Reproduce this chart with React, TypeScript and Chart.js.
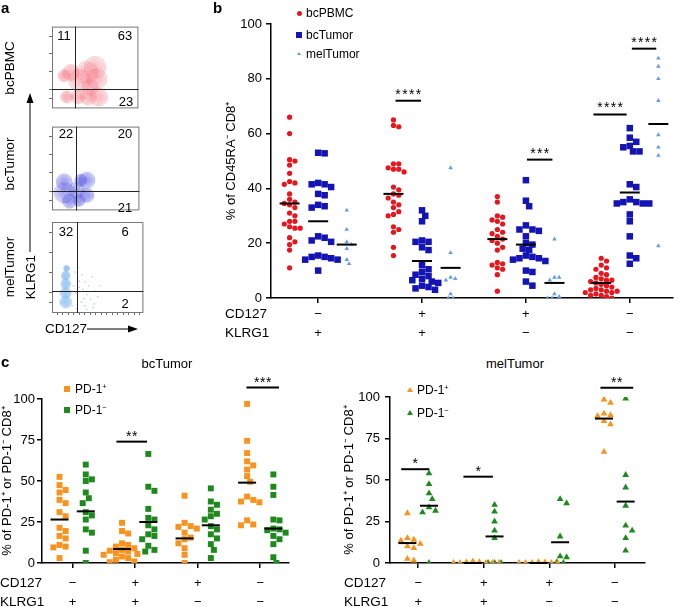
import React, { useEffect, useRef } from 'react';
import { Chart, registerables } from 'chart.js';

Chart.register(...registerables);

const FONT = '"Liberation Sans", Arial, Helvetica, sans-serif';
Chart.defaults.font.family = FONT;
Chart.defaults.color = '#000';

// ---------------- shared category rows ----------------
const GROUPS = [1, 2, 3, 4];
const CD127_ROW = ['\u2212', '+', '+', '\u2212'];
const KLRG1_ROW = ['+', '+', '\u2212', '\u2212'];

// ---------------- panel a (flow plots, contour centres in 0-100 units) ----------------
const aPBMCBlobs = [
  { x: 50, y: 50, r: 11 }, { x: 52, y: 36, r: 10 }, { x: 40, y: 44, r: 11 }, { x: 32, y: 34, r: 11 },
  { x: 22, y: 44, r: 8 }, { x: 14, y: 40, r: 6 }, { x: 44, y: 26, r: 8 },
  { x: 54, y: 14, r: 9 }, { x: 42, y: 14, r: 8 }, { x: 30, y: 14, r: 7 }, { x: 17, y: 14, r: 6 },
];
const aTumorBlobs = [
  { x: 14, y: 21, r: 10 }, { x: 14, y: 34, r: 8 }, { x: 20, y: 11, r: 7 }, { x: 40, y: 36, r: 8 },
  { x: 40, y: 18, r: 7 }, { x: 28, y: 24, r: 8 }, { x: 31, y: 12, r: 6 }, { x: 33, y: 36, r: 6 },
];
const aMelBlobs = [
  { x: 15, y: 12, r: 6 }, { x: 15, y: 22, r: 5.5 }, { x: 15, y: 32, r: 5 }, { x: 15, y: 41, r: 4.5 }, { x: 16, y: 49, r: 3 },
];
const aMelDots = [
  [24, 30], [26, 22], [28, 18], [30, 35], [32, 12], [34, 26], [36, 8], [38, 20], [40, 30], [42, 15],
  [44, 40], [46, 10], [48, 24], [25, 45], [28, 50], [33, 42], [22, 8], [27, 5], [35, 16], [38, 4],
  [50, 18], [52, 30], [30, 28], [36, 34], [45, 6],
];
const aGatePBMC = [27, 24];
const aGateTumor = [27, 23];
const aGateMel = [27, 24];
const aTicksY = [12, 23, 45, 67, 88];
const aTicksXMel = [6, 12, 18, 24, 30, 36, 42, 48, 54, 60, 66, 72, 78, 84, 90, 96];

// ---------------- panel b ----------------
const bPBMC = [
  [66, 60, 50.5, 50, 48.5, 45.5, 42.5, 42, 41.5, 38, 36, 35, 34.5, 34, 33, 31, 30, 28, 28, 27, 26, 25.5, 25.5, 22, 20.5, 19.5, 17.5, 11],
  [65, 63, 62.5, 49, 49, 47.5, 47, 47, 46, 40.5, 39.5, 38, 37.5, 36.5, 35, 34, 33, 31.5, 30.5, 30, 26, 25, 24, 18.5, 15.5],
  [37, 35, 30, 29.5, 28.5, 28, 27, 25, 24, 23.5, 22.5, 21.5, 21, 20, 18.5, 17.5, 13, 12.5, 12, 11, 10.5, 8.5, 2.5],
  [14.5, 13.5, 12, 11, 10.5, 9, 8.5, 7.5, 7, 6.5, 6, 5.5, 5, 4.5, 4, 3.5, 3, 2.5, 2, 2, 1.5, 1, 1, 0.5, 0, 6.5, 2.5, 3],
];
const bTumor = [
  [53, 52.8, 42, 41.5, 41.5, 40.5, 38, 37.5, 34, 33.5, 33, 22.5, 22, 21, 20.5, 15.5, 15, 15, 14.5, 14, 14, 10],
  [32, 30, 28, 21, 20.5, 20.5, 18.5, 17.5, 12, 10.5, 9.5, 8.5, 8, 7, 6.5, 6, 5.5, 4.5, 4, 3.5, 3],
  [43, 35.5, 33.5, 26.5, 25, 25, 24.5, 22.5, 20, 19.5, 18, 17.5, 15.5, 15, 14.5, 14.5, 14, 13.5, 10, 9.5, 6, 4.5],
  [62, 58.5, 57, 55.5, 55, 53.5, 53.5, 41.5, 40.5, 36, 35, 35, 34.5, 34.5, 34.5, 30.5, 28, 22.5, 15.5, 14.5, 12.5],
];
const bMel = [
  [32, 25, 20.5, 19.5, 18, 14, 12.5],
  [47.5, 16.5, 7.5, 7, 6.5, 1.5, 0, 0],
  [21.5, 7.5, 7.5, 6.5, 1.5, 0.5, 0, 0],
  [87.5, 84.5, 80, 72, 59.5, 55, 52, 19],
];
const bPBMCMean = [34.5, 38, 21.5, 5.5];
const bTumorMean = [28, 13.5, 19.5, 38.5];
const bMelMean = [19.5, 11, 5.5, 63.5];
const bSig = [
  { g: 2, x0: -0.255, x1: -0.01, y: 72, s: '****' },
  { g: 3, x0: 0.01, x1: 0.255, y: 50.5, s: '***' },
  { g: 4, x0: -0.35, x1: -0.03, y: 67, s: '****' },
  { g: 4, x0: 0.02, x1: 0.255, y: 91, s: '****' },
];

// ---------------- panel c, bcTumor ----------------
const cbPos = [
  [52.5, 47.5, 44.5, 43, 38.5, 36.5, 31, 28.5, 21.5, 19.5, 16.5, 15, 11, 10, 9.5, 3],
  [24.5, 19.5, 18, 11, 10, 9, 8, 7.5, 7, 6, 5.5, 5, 4, 3, 2, 1, 0.5, 12],
  [41, 24.5, 22.5, 21, 18.5, 15.5, 14.5, 12, 9, 5, 0, 22],
  [97, 74.5, 67, 62, 59.5, 57, 53, 49.5, 40.5, 38.5, 37.5, 37, 26, 23.5, 23],
];
const cbNeg = [
  [60, 54, 51, 50, 43, 39.5, 36.5, 31, 29, 26.5, 20.5, 18.5, 7.5, 0],
  [66.5, 46.5, 44, 33, 27.5, 26.5, 23, 20.5, 17.5, 14.5, 10.5, 8, 7, 16.5],
  [45.5, 37.5, 35.5, 32.5, 30, 28.5, 26.5, 22.5, 20.5, 17.5, 15, 11.5, 8, 3],
  [54, 46.5, 41.5, 26.5, 26, 21, 20.5, 18.5, 16.5, 14.5, 11.5, 3.5, 0, 20],
];
const cbPosMean = [26.5, 8.5, 15, 49];
const cbNegMean = [31.5, 25, 23, 21];
const cbSig = [
  { g: 2, x0: -0.3, x1: 0.19, y: 74, s: '**' },
  { g: 4, x0: -0.22, x1: 0.3, y: 107, s: '***' },
];

// ---------------- panel c, melTumor ----------------
const cmPos = [
  [30, 15, 14, 13.5, 11.5, 10, 9, 2.5, 1.5],
  [0, 0, 0, 0.3, 0.5, 1, 0, 0],
  [0, 0, 0, 0.3, 0.5, 0, 0],
  [98.5, 96.5, 90, 89, 88.5, 85.5, 83.5, 67],
];
const cmNeg = [
  [54, 47.5, 42, 38.5, 33.5, 31.5, 30.5, 0],
  [35, 31, 25, 19.5, 15, 0, 0, 0],
  [38.5, 36, 16, 4, 3.5, 0.5, 0],
  [99, 53, 45.5, 34.5, 22.5, 19.5, 15, 7.5],
];
const cmPosMean = [12, 0, 0, 87];
const cmNegMean = [34.5, 16, 12.5, 37];
const cmSig = [
  { g: 1, x0: -0.26, x1: 0.17, y: 56.5, s: '*' },
  { g: 2, x0: -0.31, x1: 0.14, y: 52, s: '*' },
  { g: 4, x0: -0.22, x1: 0.28, y: 105.5, s: '**' },
];

// ---------------- colours ----------------
const RED = '#e8151d';
const BLUE = '#1414b4';
const LBLUE = '#5e9ee6';
const ORANGE = '#f7931e';
const GREEN = '#1e8a1e';

// deterministic beeswarm offsets (pixels -> x data units)
function swarm(vals: number[], pxY: number, pxX: number, d: number): number[] {
  const idx = vals.map((_, i) => i).sort((a, b) => vals[b] - vals[a]);
  const placed: { x: number; y: number }[] = [];
  const out = new Array(vals.length).fill(0);
  for (const i of idx) {
    const y = vals[i] * pxY;
    for (let k = 0; k < 60; k++) {
      const off = (k % 2 === 1 ? 1 : -1) * Math.ceil(k / 2) * d * 0.5;
      if (placed.every((p) => Math.hypot(p.x - off, p.y - y) >= d * 0.95)) {
        placed.push({ x: off, y });
        out[i] = off / pxX;
        break;
      }
    }
  }
  return out;
}

function dots(groups: number[][], offset: number, pxY: number, pxX: number, d: number) {
  const data: { x: number; y: number }[] = [];
  groups.forEach((vals, gi) => {
    const offs = swarm(vals, pxY, pxX, d);
    vals.forEach((v, i) => data.push({ x: GROUPS[gi] + offset + offs[i], y: v }));
  });
  return data;
}

const starPlugin = {
  id: 'stars',
  afterDatasetsDraw(chart: any, _args: any, opts: any) {
    const items = opts.items || [];
    const { ctx } = chart;
    const xs = chart.scales.x;
    const ys = chart.scales.y;
    ctx.save();
    ctx.fillStyle = '#000';
    ctx.font = `${opts.size || 14}px ${FONT}`;
    ctx.textAlign = 'center';
    ctx.textBaseline = 'alphabetic';
    for (const it of items) {
      const cx = xs.getPixelForValue(it.g + (it.x0 + it.x1) / 2);
      const y = ys.getPixelForValue(it.y);
      const n = it.s.length;
      const sp = opts.spacing || 6.5;
      for (let k = 0; k < n; k++) ctx.fillText('*', cx + (k - (n - 1) / 2) * sp, y + (opts.lift ?? 0));
    }
    ctx.restore();
  },
};

const flowPlugin = {
  id: 'flow',
  afterDatasetsDraw(chart: any, _a: any, opts: any) {
    const { ctx, chartArea, scales } = chart;
    const { left, top, right, bottom } = chartArea;
    const gx = scales.x.getPixelForValue(opts.gate[0]);
    const gy = scales.y.getPixelForValue(opts.gate[1]);
    ctx.save();
    ctx.strokeStyle = '#777';
    ctx.lineWidth = 1;
    ctx.strokeRect(left + 0.5, top + 0.5, right - left - 1, bottom - top - 1);
    ctx.strokeStyle = '#222';
    ctx.beginPath();
    ctx.moveTo(Math.round(gx) + 0.5, top);
    ctx.lineTo(Math.round(gx) + 0.5, bottom);
    ctx.moveTo(left, Math.round(gy) + 0.5);
    ctx.lineTo(right, Math.round(gy) + 0.5);
    ctx.stroke();
    ctx.restore();
  },
};

function flowConfig(blobs: any[], stroke: string, fill: string, gate: number[], scatter: number[][], xTicks: number[]) {
  const rings = [1, 0.86, 0.73, 0.6, 0.48, 0.36, 0.24, 0.12];
  const datasets: any[] = rings.map((f) => ({
    type: 'bubble',
    data: blobs.map((b) => ({ x: b.x, y: b.y, r: b.r * f })),
    backgroundColor: fill,
    borderColor: stroke,
    borderWidth: 0.6,
  }));
  if (scatter.length) {
    datasets.push({
      type: 'scatter',
      data: scatter.map(([x, y]) => ({ x, y })),
      pointRadius: 0.8,
      backgroundColor: stroke,
      borderWidth: 0,
    });
  }
  return {
    type: 'bubble',
    data: { datasets },
    options: {
      responsive: false,
      animation: false,
      events: [],
      layout: { padding: { top: 7, right: 3, left: 0, bottom: 0 } },
      plugins: { legend: { display: false }, tooltip: { enabled: false }, flow: { gate } },
      scales: {
        x: {
          type: 'linear', min: 0, max: 100,
          afterFit: (s: any) => { s.height = 7; },
          afterBuildTicks: (s: any) => { s.ticks = xTicks.map((v) => ({ value: v })); },
          ticks: { display: false },
          grid: { drawOnChartArea: false, tickLength: 2, color: '#444', lineWidth: 0.8 },
          border: { display: false },
        },
        y: {
          type: 'linear', min: 0, max: 100,
          afterFit: (s: any) => { s.width = 12; },
          afterBuildTicks: (s: any) => { s.ticks = aTicksY.map((v) => ({ value: v })); },
          ticks: { display: false },
          grid: { drawOnChartArea: false, tickLength: 3, color: '#444', lineWidth: 0.8 },
          border: { display: false },
        },
      },
    },
    plugins: [flowPlugin],
  };
}

function axisCommon(tickLen: number) {
  return {
    grid: { drawOnChartArea: false, drawTicks: true, tickLength: tickLen, color: '#000', tickColor: '#000', lineWidth: 1.5, tickWidth: 1.5 },
    border: { display: true, color: '#000', width: 1.5 },
  };
}

interface SeriesSpec { vals: number[][]; off: number; color: string; style: string; r: number; d: number; }

function dotConfig(p: {
  series: SeriesSpec[]; means: number[][]; sig: any[]; pxY: number; pxX: number;
  xmin: number; xmax: number; yStep: number; yWidth: number; xHeight: number;
  padTop: number; padRight: number; title: string; titlePad: number; meanR: number;
  yTickPad: number; xTickPad: number; starSpacing: number; lift: number;
}) {
  const datasets: any[] = [];
  p.sig.forEach((s) => {
    datasets.push({
      data: [{ x: s.g + s.x0, y: s.y }, { x: s.g + s.x1, y: s.y }],
      showLine: true, pointRadius: 0, borderColor: '#000', borderWidth: 2, clip: false,
    });
  });
  p.means.forEach((m, si) => {
    datasets.push({
      data: m.map((v, gi) => ({ x: GROUPS[gi] + p.series[si].off, y: v })),
      pointStyle: 'line', pointRadius: p.meanR, borderColor: '#000', borderWidth: 2, showLine: false, clip: false,
    });
  });
  p.series.forEach((s) => {
    datasets.push({
      data: dots(s.vals, s.off, p.pxY, p.pxX, s.d),
      pointStyle: s.style, pointRadius: s.r, backgroundColor: s.color, borderColor: s.color, borderWidth: 0, showLine: false,
    });
  });
  return {
    type: 'scatter',
    data: { datasets },
    options: {
      responsive: false,
      animation: false,
      events: [],
      layout: { padding: { top: p.padTop, right: p.padRight, left: 0, bottom: 0 } },
      plugins: {
        legend: { display: false }, tooltip: { enabled: false },
        stars: { items: p.sig, spacing: p.starSpacing, size: 14, lift: p.lift },
      },
      scales: {
        x: {
          type: 'linear', min: p.xmin, max: p.xmax,
          afterFit: (s: any) => { s.height = p.xHeight; },
          afterBuildTicks: (s: any) => { s.ticks = GROUPS.map((v) => ({ value: v })); },
          ticks: {
            callback: (v: number) => [CD127_ROW[Math.round(v) - 1], KLRG1_ROW[Math.round(v) - 1]],
            font: { size: 13, lineHeight: 19 / 13 }, color: '#000', padding: p.xTickPad, maxRotation: 0, autoSkip: false,
          },
          ...axisCommon(5),
        },
        y: {
          type: 'linear', min: 0, max: 100,
          afterFit: (s: any) => { s.width = p.yWidth; },
          ticks: { stepSize: p.yStep, font: { size: 13 }, color: '#000', padding: p.yTickPad },
          title: { display: true, text: p.title, font: { size: 13 }, color: '#000', padding: { top: p.titlePad, bottom: 0 } },
          ...axisCommon(5),
        },
      },
    },
    plugins: [starPlugin],
  };
}

const bConfig = () => dotConfig({
  series: [
    { vals: bPBMC, off: -0.275, color: RED, style: 'circle', r: 2.6, d: 5.4 },
    { vals: bTumor, off: 0, color: BLUE, style: 'rect', r: 4.6, d: 6.6 },
    { vals: bMel, off: 0.275, color: LBLUE, style: 'triangle', r: 2.6, d: 4.8 },
  ],
  means: [bPBMCMean, bTumorMean, bMelMean], sig: bSig,
  pxY: 2.74, pxX: 105.7, xmin: 0.546, xmax: 4.416, yStep: 20, yWidth: 71, xHeight: 42,
  padTop: 24, padRight: 2, title: '% of CD45RA\u207B CD8\u207A', titlePad: 24, meanR: 10,
  yTickPad: 4, xTickPad: 1.5, starSpacing: 6.8, lift: -2,
});

const cbConfig = () => dotConfig({
  series: [
    { vals: cbPos, off: -0.21, color: ORANGE, style: 'rect', r: 4.2, d: 6.2 },
    { vals: cbNeg, off: 0.21, color: GREEN, style: 'rect', r: 4.2, d: 6.2 },
  ],
  means: [cbPosMean, cbNegMean], sig: cbSig,
  pxY: 1.64, pxX: 63.3, xmin: 0.51, xmax: 4.46, yStep: 25, yWidth: 42, xHeight: 44,
  padTop: 24, padRight: 2, title: '% of PD-1\u207A or PD-1\u207B CD8\u207A', titlePad: 0, meanR: 9,
  yTickPad: 2, xTickPad: 5.5, starSpacing: 6, lift: -1,
});

const cmConfig = () => dotConfig({
  series: [
    { vals: cmPos, off: -0.165, color: ORANGE, style: 'triangle', r: 3.9, d: 6.4 },
    { vals: cmNeg, off: 0.165, color: GREEN, style: 'triangle', r: 3.9, d: 6.4 },
  ],
  means: [cmPosMean, cmNegMean], sig: cmSig,
  pxY: 1.66, pxX: 64.7, xmin: 0.57, xmax: 4.46, yStep: 25, yWidth: 50, xHeight: 44,
  padTop: 22, padRight: 40, title: '% of PD-1\u207A or PD-1\u207B CD8\u207A', titlePad: 2, meanR: 9,
  yTickPad: 5, xTickPad: 5.5, starSpacing: 6, lift: -1,
});

function ChartCanvas({ left, top, width, height, make }: any) {
  const ref = useRef<HTMLCanvasElement>(null);
  useEffect(() => {
    const chart = new Chart(ref.current as HTMLCanvasElement, make());
    return () => chart.destroy();
  }, []);
  return <canvas ref={ref} width={width} height={height} style={{ position: 'absolute', left, top, width, height }} />;
}

function Txt({ x, y, s = 13, bold = false, rot = 0, anchor = 'middle', children }: any) {
  const tx = anchor === 'start' ? '0' : anchor === 'end' ? '-100%' : '-50%';
  return (
    <div style={{
      position: 'absolute', left: x, top: y, fontSize: s, fontWeight: bold ? 'bold' : 'normal', lineHeight: 1,
      whiteSpace: 'nowrap', transform: `translate(${tx}, -50%)${rot ? ` rotate(${rot}deg)` : ''}`, fontFamily: FONT,
    }}>{children}</div>
  );
}

function Marker({ x, y, shape, color, size }: any) {
  const base: any = { position: 'absolute', left: x - size / 2, top: y - size / 2 };
  if (shape === 'circle') return <div style={{ ...base, width: size, height: size, borderRadius: '50%', background: color }} />;
  if (shape === 'square') return <div style={{ ...base, width: size, height: size, background: color }} />;
  return <div style={{ ...base, width: 0, height: 0, borderLeft: `${size / 2}px solid transparent`, borderRight: `${size / 2}px solid transparent`, borderBottom: `${size * 0.87}px solid ${color}` }} />;
}

const Sup = ({ c }: any) => <sup style={{ fontSize: '0.62em', verticalAlign: '0.55em', lineHeight: 0 }}>{c}</sup>;

export default function App() {
  return (
    <div style={{ position: 'fixed', left: 0, top: 0, width: 685, height: 607, background: '#fff', overflow: 'hidden', fontFamily: FONT, color: '#000' }}>
      {/* panel a */}
      <ChartCanvas left={40} top={15} width={110} height={105}
        make={() => flowConfig(aPBMCBlobs, 'rgba(236,80,90,0.45)', 'rgba(250,140,150,0.05)', aGatePBMC, [], [])} />
      <ChartCanvas left={40} top={116} width={110} height={105}
        make={() => flowConfig(aTumorBlobs, 'rgba(55,55,215,0.5)', 'rgba(110,110,235,0.06)', aGateTumor, [], [])} />
      <ChartCanvas left={40} top={215} width={110} height={105}
        make={() => flowConfig(aMelBlobs, 'rgba(100,165,235,0.55)', 'rgba(150,200,245,0.15)', aGateMel, aMelDots, aTicksXMel)} />

      {/* panel b */}
      <ChartCanvas left={200} top={0} width={485} height={340} make={bConfig} />
      {/* panel c */}
      <ChartCanvas left={0} top={375} width={300} height={232} make={cbConfig} />
      <ChartCanvas left={340} top={375} width={345} height={232} make={cmConfig} />

      <svg width={200} height={340} style={{ position: 'absolute', left: 0, top: 0 }}>
        <line x1={30} y1={252} x2={30} y2={101} stroke="#000" strokeWidth={1} />
        <polygon points="30,93 26.5,103 33.5,103" fill="#000" />
        <line x1={87} y1={329} x2={130} y2={329} stroke="#000" strokeWidth={1} />
        <polygon points="138,329 128,325.5 128,332.5" fill="#000" />
      </svg>

      <Txt x={1} y={7} s={15} bold anchor="start">a</Txt>
      <Txt x={64} y={35}>11</Txt>
      <Txt x={125} y={35}>63</Txt>
      <Txt x={126} y={101}>23</Txt>
      <Txt x={66} y={133}>22</Txt>
      <Txt x={125} y={133}>20</Txt>
      <Txt x={125} y={207}>21</Txt>
      <Txt x={66} y={231}>32</Txt>
      <Txt x={125} y={231}>6</Txt>
      <Txt x={125} y={303}>2</Txt>
      <Txt x={10} y={68} s={13.5} rot={-90}>bcPBMC</Txt>
      <Txt x={10} y={164} s={13.5} rot={-90}>bcTumor</Txt>
      <Txt x={10} y={267} s={13.5} rot={-90}>melTumor</Txt>
      <Txt x={31} y={277} s={13.5} rot={-90}>KLRG1</Txt>
      <Txt x={45} y={329} s={13.5} anchor="start">CD127</Txt>

      {/* panel b texts */}
      <Txt x={213} y={7} s={15} bold anchor="start">b</Txt>
      <Marker x={299} y={13} shape="circle" color={RED} size={5} />
      <Txt x={306} y={13} s={12} anchor="start">bcPBMC</Txt>
      <Marker x={299} y={35} shape="square" color={BLUE} size={6} />
      <Txt x={306} y={35} s={12} anchor="start">bcTumor</Txt>
      <Marker x={299} y={54} shape="triangle" color={LBLUE} size={4.5} />
      <Txt x={306} y={54} s={12} anchor="start">melTumor</Txt>
      <Txt x={225} y={314} s={13.5} anchor="start">CD127</Txt>
      <Txt x={225} y={333} s={13.5} anchor="start">KLRG1</Txt>

      {/* panel c texts */}
      <Txt x={1} y={361} s={15} bold anchor="start">c</Txt>
      <Txt x={167} y={363} s={13}>bcTumor</Txt>
      <Txt x={515} y={363} s={13}>melTumor</Txt>
      <Marker x={67} y={389} shape="square" color={ORANGE} size={6} />
      <Txt x={75} y={389} s={12} anchor="start">PD-1<Sup c="+" /></Txt>
      <Marker x={67} y={410} shape="square" color={GREEN} size={6} />
      <Txt x={75} y={410} s={12} anchor="start">PD-1<Sup c={'\u2212'} /></Txt>
      <Marker x={410} y={390} shape="triangle" color={ORANGE} size={6} />
      <Txt x={417} y={390} s={12} anchor="start">PD-1<Sup c="+" /></Txt>
      <Marker x={410} y={413} shape="triangle" color={GREEN} size={6} />
      <Txt x={417} y={413} s={12} anchor="start">PD-1<Sup c={'\u2212'} /></Txt>
      <Txt x={0} y={583} s={13.5} anchor="start">CD127</Txt>
      <Txt x={0} y={602} s={13.5} anchor="start">KLRG1</Txt>
      <Txt x={344} y={583} s={13.5} anchor="start">CD127</Txt>
      <Txt x={344} y={602} s={13.5} anchor="start">KLRG1</Txt>
    </div>
  );
}
